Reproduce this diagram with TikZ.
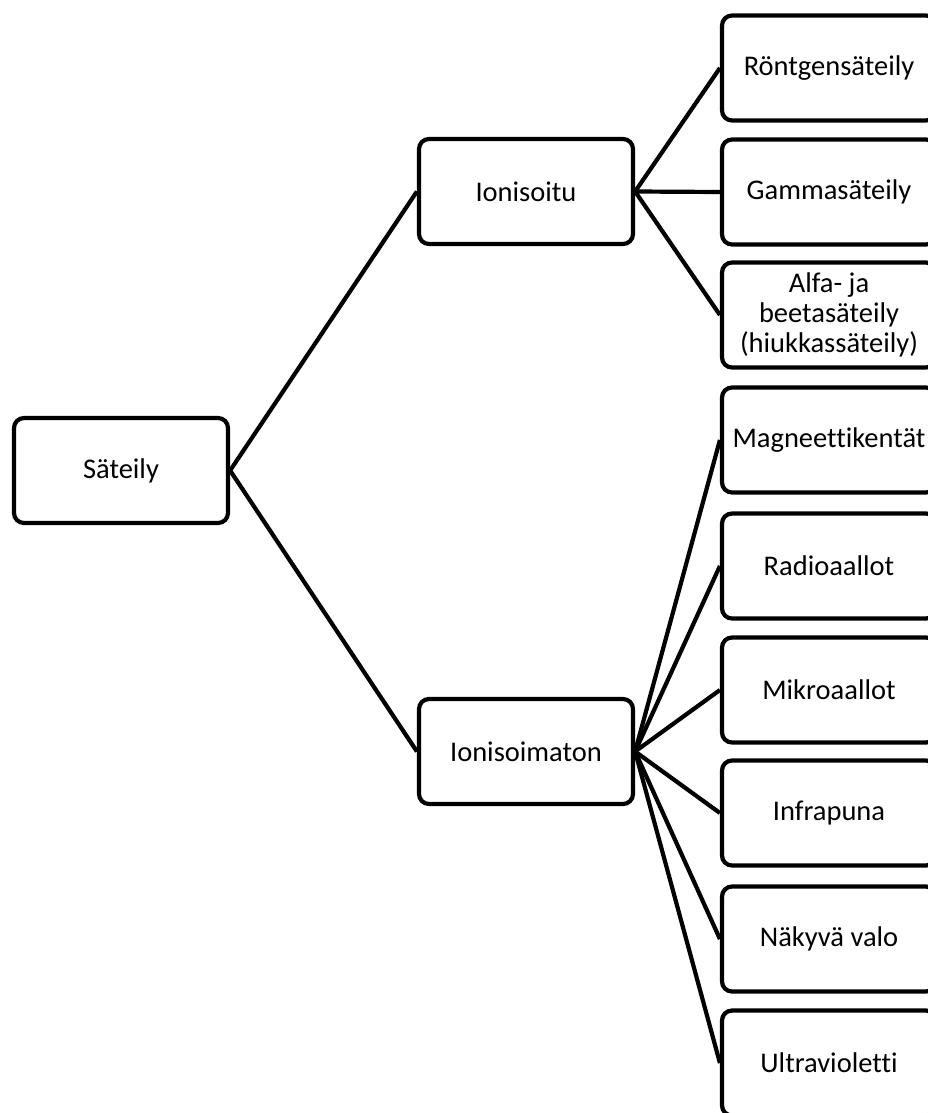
\documentclass[tikz,border=0pt]{standalone}
\usepackage{fontspec}
\setmainfont{Carlito}[Ligatures={NoCommon,NoRare}]
\begin{document}
\begin{tikzpicture}[x=1pt,y=-1pt,
  box/.style={draw=black, line width=4.2pt, rounded corners=10pt, fill=white,
    minimum width=214pt, minimum height=105pt, inner sep=0pt, align=center,
    font=\fontsize{28.5}{30}\selectfont},
  link/.style={draw=black, line width=4.2pt}]
\useasboundingbox (0,0) rectangle (928,1113);
\clip (0,0) rectangle (928,1113);
\node[box] (sat) at (121,470.5) {Säteily};
\node[box] (ion) at (526,191.5) {Ionisoitu};
\node[box] (non) at (526,751.5) {Ionisoimaton};
\node[box] (r1) at (829,68) {Röntgensäteily};
\node[box] (r2) at (829,192) {Gammasäteily};
\node[box] (r3) at (829,315) {Alfa- ja\\beetasäteily\\(hiukkassäteily)};
\node[box] (r4) at (829,440) {Magneettikentät};
\node[box] (r5) at (829,566) {Radioaallot};
\node[box] (r6) at (829,690) {Mikroaallot};
\node[box] (r7) at (829,813) {Infrapuna};
\node[box] (r8) at (829,939) {Näkyvä valo};
\node[box] (r9) at (829,1063) {Ultravioletti};
\draw[link] (sat.east) -- (ion.west);
\draw[link] (sat.east) -- (non.west);
\foreach \n in {r1,r2,r3} \draw[link] (ion.east) -- (\n.west);
\foreach \n in {r4,r5,r6,r7,r8,r9} \draw[link] (non.east) -- (\n.west);
\end{tikzpicture}
\end{document}
